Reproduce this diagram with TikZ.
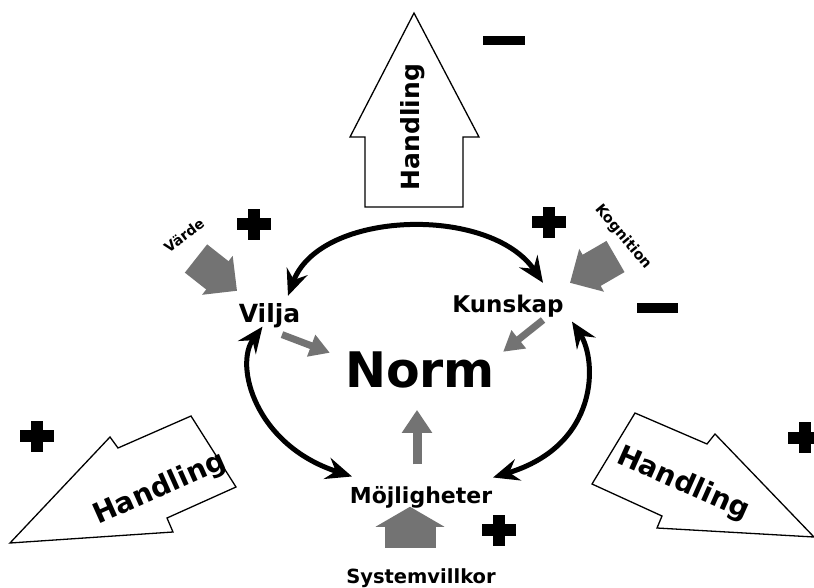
\documentclass[tikz,border=0pt]{standalone}
\usepackage{fontspec}
\setmainfont{DejaVu Sans}
\usetikzlibrary{arrows.meta}
\definecolor{arrowgray}{gray}{0.45}
\newcommand{\lblfont}[1]{\fontsize{#1}{#1}\selectfont\bfseries}
\begin{document}
\begin{tikzpicture}[x=1pt,y=-1pt,
  lbl/.style={inner sep=2pt, anchor=base, font=\lblfont{#1}},
  tag/.style={inner sep=0pt, font=\lblfont{#1}},
  bigarrow/.style={draw, line width=1.3pt, fill=white, line join=miter},
  mutual/.style={draw=black, line width=5pt,
    {Stealth[length=26pt,width=22pt,inset=9pt]}-{Stealth[length=26pt,width=22pt,inset=9pt]}},
  pull/.style={draw=arrowgray, line width=7pt, -{Triangle[length=20pt,width=22pt]}},
  lift/.style={draw=arrowgray, line width=9pt, -{Triangle[length=23pt,width=29pt]}},
  feed/.style={draw=arrowgray, line width=36pt, -{Triangle[length=25pt,width=48pt]}},
  groundarrow/.style={draw=arrowgray, line width=51pt, -{Triangle[length=20pt,width=68pt]}},
  pics/plus/.style={code={
    \fill (-17,-6) rectangle (17,6);
    \fill (-6,-15.5) rectangle (6,15.5);}},
]
\useasboundingbox (0,0) rectangle (814,587);
\fill[white] (0,0) rectangle (814,587);

% outline "Handling" arrows
\draw[bigarrow] (414,13) -- (479,137) -- (463,137) -- (463,207) -- (365,207) -- (365,137) -- (350,137) -- cycle;
\node[tag=25, rotate=90] (hTop) at (413,127) {Handling};

\draw[bigarrow] (10,543) -- (110,437) -- (118,448) -- (191,416) -- (236,487) -- (167,518) -- (173,532) -- cycle;
\node[tag=28, rotate=24] (hLeft) at (160,489) {Handling};

\draw[bigarrow] (635,413) -- (707,444) -- (715,434) -- (814,537) -- (657,528) -- (662,516) -- (592,484) -- cycle;
\node[tag=28, rotate=-24] (hRight) at (683,484) {Handling};

% signs
\fill (483,36) rectangle (525,45);
\fill (637,303) rectangle (678,313);
\pic at (254,224) {plus};
\pic at (548.5,222) {plus};
\pic at (36.5,436) {plus};
\pic at (804.5,437.5) {plus};
\pic at (498.5,530) {plus};

% concepts
\node[lbl=49] (norm) at (420,387) {Norm};
\node[lbl=25] (vilja) at (269.5,322) {Vilja};
\node[lbl=23] (kunskap) at (508,312) {Kunskap};
\node[lbl=22] (moj) at (421,503) {Möjligheter};
\node[lbl=19.5] (sys) at (421,583) {Systemvillkor};
\node[tag=14, rotate=37] (varde) at (184,235) {Värde};
\node[tag=14.5, rotate=-50] (kogn) at (623,237) {Kognition};

% inflows
\draw[feed] ([shift={(12,23.5)}]varde.center) -- ([shift={(-32.5,-10)}]vilja.north);
\draw[feed] ([shift={(-7.5,19.5)}]kogn.center) -- ([shift={(62,-9.5)}]kunskap.north);
\draw[groundarrow] ([shift={(-11,-18.2)}]sys.north) -- ([shift={(-11,-3.2)}]moj.south);

% towards the norm
\draw[pull] ([shift={(12.5,5)}]vilja.south) -- ([shift={(-13,3.7)}]norm.north west);
\draw[pull] ([shift={(35,1)}]kunskap.south) -- ([shift={(6,2.7)}]norm.north east);
\draw[lift] ([shift={(-4,-19.3)}]moj.north) -- ([shift={(-3,20)}]norm.south);

% mutual influence loop
\draw[mutual] ([shift={(18.5,-5)}]vilja.north) .. controls (320,210) and (490,205) .. ([shift={(35,-9.5)}]kunskap.north);
\draw[mutual] ([shift={(-7,-3)}]vilja.south) .. controls (234,365) and (255,445) .. ([shift={(-69,-7.3)}]moj.north);
\draw[mutual] ([shift={(64,2.6)}]kunskap.south) .. controls (597,360) and (600,445) .. ([shift={(72,-6.3)}]moj.north);
\end{tikzpicture}
\end{document}
